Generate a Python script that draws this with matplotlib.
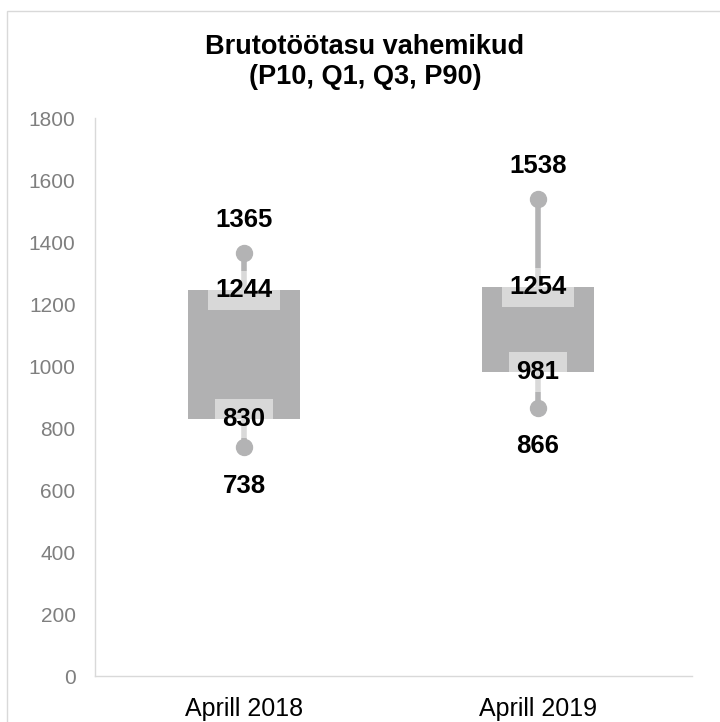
import matplotlib
matplotlib.use('Agg')
import matplotlib.pyplot as plt
from matplotlib.patches import Rectangle
import numpy as np

plt.rcParams['font.family'] = ['Liberation Sans', 'DejaVu Sans']

categories = ['Aprill 2018', 'Aprill 2019']
p10 = [738, 866]
q1 = [830, 981]
q3 = [1244, 1254]
p90 = [1365, 1538]
yticks = [0, 200, 400, 600, 800, 1000, 1200, 1400, 1600, 1800]

box_col = '#b1b1b2'
line_col = '#b3b3b4'

fig = plt.figure(figsize=(7.2, 7.22), dpi=100)
ax = fig.add_axes([95/720, 46/722, 597/720, 558/722])

x = np.arange(len(categories))
q1a, q3a = np.array(q1), np.array(q3)

ax.vlines(x, q3a, p90, colors=line_col, linewidth=4, zorder=1)
ax.vlines(x, p10, q1a, colors=line_col, linewidth=4, zorder=1)
ax.plot(x, p90, 'o', color=line_col, markersize=11.5, zorder=1)
ax.plot(x, p10, 'o', color=line_col, markersize=11.5, zorder=1)
ax.bar(x, q3a - q1a, bottom=q1a, width=0.384, color=box_col, zorder=2)

lbl = dict(ha='center', va='center', fontsize=18.5, fontweight='bold', color='black', zorder=4)
bg = dict(boxstyle='square,pad=0.3', fc='white', ec='none', alpha=0.5)
for i in range(len(categories)):
    ax.text(x[i], q3[i], str(q3[i]), bbox=bg, **lbl)
    ax.text(x[i], q1[i], str(q1[i]), bbox=bg, **lbl)
    ax.annotate(str(p90[i]), (x[i], p90[i]), xytext=(0, 24), textcoords='offset points', **lbl)
    ax.annotate(str(p10[i]), (x[i], p10[i]), xytext=(0, -28), textcoords='offset points', **lbl)

ax.set_xlim(-0.507, 1.524)
ax.set_ylim(0, 1800)
ax.set_yticks(yticks)
ax.set_xticks(x)
ax.set_xticklabels(categories, fontsize=18, color='black')
ax.tick_params(axis='y', length=0, pad=14, labelsize=15, labelcolor='#7f7f7f')
ax.tick_params(axis='x', length=0, pad=15)
for s in ['top', 'right']:
    ax.spines[s].set_visible(False)
for s in ['left', 'bottom']:
    ax.spines[s].set_color('#d9d9d9')
    ax.spines[s].set_linewidth(1)

fig.text(365/720, 1 - 62/722, 'Brutotöötasu vahemikud\n(P10, Q1, Q3, P90)',
         ha='center', va='center', fontsize=19.5, fontweight='bold', linespacing=1.15)

fig.patches.append(Rectangle((7/720, -0.05), 1.2, 1.05 - 11/722, transform=fig.transFigure,
                             fill=False, edgecolor='#d9d9d9', linewidth=1))

fig.savefig('out.png', dpi=100)
